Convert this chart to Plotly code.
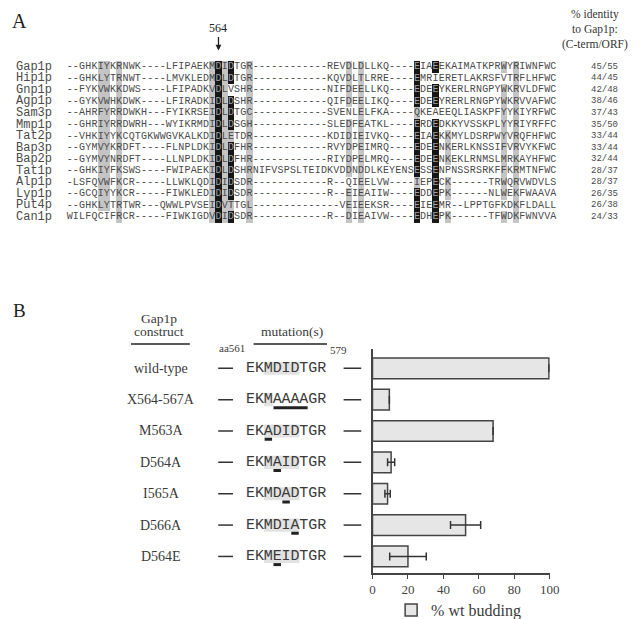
import plotly.graph_objects as go

# ── panel A: alignment around Gap1p residue 564 ─────────────────────────────
proteins = ["Gap1p", "Hip1p", "Gnp1p", "Agp1p", "Sam3p", "Mmp1p", "Tat2p",
            "Bap3p", "Bap2p", "Tat1p", "Alp1p", "Lyp1p", "Put4p", "Can1p"]
alignment = [
    "--GHKIYKRNWK----LFIPAEKMDIDTGR------------REVDLDLLKQ----EIAEEKAIMATKPRWYRIWNFWC",
    "--GHKLYTRNWT----LMVKLEDMDLDTGR------------KQVDLTLRRE----EMRIERETLAKRSFVTRFLHFWC",
    "--FYKVWKKDWS----LFIPADKVDLVSHR------------NIFDEELLKQ----EDEEYKERLRNGPYWKRVLDFWC",
    "--GYKVWHKDWK----LFIRADKIDLDSHR------------QIFDEELIKQ----EDEEYRERLRNGPYWKRVVAFWC",
    "--AHRFYRRDWKH---FYIKRSEIDLDTGC------------SVENLELFKA----QKEAEEQLIASKPFYYKIYRFWC",
    "--GHRIYRRDWRH---WYIKRMDIDLDSGH------------SLEDFEATKL----ERDEDKKYVSSKPLYYRIYRFFC",
    "--VHKIYYKCQTGKWWGVKALKDIDLETDR------------KDIDIEIVKQ----EIAEKKMYLDSRPWYVRQFHFWC",
    "--GYMVYKRDFT----FLNPLDKIDLDFHR------------RVYDPEIMRQ----EDEENKERLKNSSIFVRVYKFWC",
    "--GYMVYNRDFT----LLNPLDKIDLDFHR------------RIYDPELMRQ----EDEENKEKLRNMSLMRKAYHFWC",
    "--GHKIYFKSWS----FWIPAEKIDLDSHRNIFVSPSLTEIDKVDDNDDLKEYENSESSENPNSSRSRKFFKRMTNFWC",
    "-LSFQVWFKCR-----LLWKLQDIDIDSDR------------R--QIEELVW----IEPECK------TRWQRVWDVLS",
    "--GCQIYYKCR-----FIWKLEDIDIDSDR------------R--EIEAIIW----EDDEPK------NLWEKFWAAVA",
    "--GHKLYTRTWR---QWWLPVSEIDVTTGL--------------VEIEEKSR----EIEEMR--LPPTGFKDKFLDALL",
    "WILFQCIFRCR-----FIWKIGDVDIDSDR------------R--DIEAIVW----EDHEPK------TFWDKFWNVVA",
]
identity = ["45/55", "44/45", "42/48", "38/46", "37/43", "35/50", "33/44",
            "33/44", "32/44", "28/37", "28/37", "26/35", "26/38", "24/33"]

ALL = list(range(len(proteins)))
# column -> rows shaded black (identical) / grey (similar)
black_cells = {
    24: ALL,
    26: [0, 1, 3, 4, 5, 7, 8, 9, 10, 11, 13],
    56: [0, 1, 2, 3, 5, 6, 7, 8, 9, 11, 12, 13],
    59: [0, 2, 3, 5, 6, 7, 8, 9, 10, 11, 12, 13],
}
gray_cells = {
    5: ALL[:13], 6: ALL[:13], 8: ALL,
    23: ALL, 25: ALL, 26: [6, 12], 29: ALL,
    45: [0, 1, 2, 3, 5, 6, 7, 8, 9, 11, 12, 13], 47: ALL,
    56: [4, 10], 61: [6, 7, 8, 10, 11, 13],
    70: [0, 2, 3, 4, 5, 6, 7, 8, 9, 10, 11, 13], 72: ALL,
}
marked_residue = 24  # Gap1p D564

# ── panel B: mutants and budding ────────────────────────────────────────────
constructs = ["wild-type", "X564-567A", "M563A", "D564A", "I565A", "D566A", "D564E"]
mut_seqs = ["EKMDIDTGR", "EKMAAAAGR", "EKADIDTGR", "EKMAIDTGR",
            "EKMDADTGR", "EKMDIATGR", "EKMEIDTGR"]
shade_span = [(2, 5), (2, 2), (2, 5), (2, 5), (2, 5), (2, 5), (2, 5)]
mutated_span = [None, (3, 6), (2, 2), (3, 3), (4, 4), (5, 5), (3, 3)]
budding = [99.5, 9.5, 68, 10.5, 8.5, 52.5, 20]
budding_err = [None, None, None, 2.0, 1.5, 8.5, 10.3]

SERIF = "Liberation Serif, Times New Roman, serif"
MONO = "Liberation Mono, Courier New, monospace"
INK = "#3a3a3a"

W, H = 640, 619


def px(x):  # pixel -> paper x
    return x / W


def py(y):  # pixel -> paper y
    return 1 - y / H


def span(p_ref, v_ref, per_unit, total):  # linear axis range from a calibration
    lo = v_ref - p_ref / per_unit
    return lo, lo + total / per_unit


fig = go.Figure()

# ── alignment shading + letters ─────────────────────────────────────────────
ncol = len(alignment[0])
z = [[0] * ncol for _ in proteins]
for col, rows in gray_cells.items():
    for r in rows:
        z[r][col] = 1
for col, rows in black_cells.items():
    for r in rows:
        z[r][col] = 2

fig.add_trace(go.Heatmap(
    z=z, x=list(range(ncol)), y=ALL, xaxis="x2", yaxis="y2",
    zmin=0, zmax=2, showscale=False, hoverinfo="skip",
    colorscale=[[0, "rgba(255,255,255,0)"], [0.33, "rgba(255,255,255,0)"],
                [0.33, "#c4c4c4"], [0.67, "#c4c4c4"],
                [0.67, "#161616"], [1, "#161616"]],
))

xs, ys, chars, colors = [], [], [], []
for r, seq in enumerate(alignment):
    for c, ch in enumerate(seq):
        xs.append(c)
        ys.append(r)
        chars.append(ch)
        colors.append("#a0a0a0" if z[r][c] == 2 else "#4a4a4a")
fig.add_trace(go.Scatter(
    x=xs, y=ys, text=chars, mode="text", xaxis="x2", yaxis="y2",
    textfont=dict(family=MONO, size=10, color=colors),
    hoverinfo="skip", showlegend=False, cliponaxis=False,
))

for r, name in enumerate(proteins):
    fig.add_annotation(x=-9.0, y=r, xref="x2", yref="y2", text=name,
                       xanchor="left", yanchor="middle", showarrow=False,
                       font=dict(family=MONO, size=12, color="#4a4a4a"))
    fig.add_annotation(x=86.3, y=r, xref="x2", yref="y2", text=identity[r],
                       xanchor="center", yanchor="middle", showarrow=False,
                       font=dict(family=MONO, size=9, color="#4a4a4a"))

fig.add_annotation(x=marked_residue, y=-3.37, xref="x2", yref="y2", text="564",
                   xanchor="center", yanchor="middle", showarrow=False,
                   font=dict(family=SERIF, size=12, color="#222"))
fig.add_annotation(x=marked_residue, y=-1.4, xref="x2", yref="y2", text="",
                   showarrow=True, ax=0, ay=-15, arrowhead=2, arrowsize=0.9,
                   arrowwidth=1.3, arrowcolor="#222")
fig.add_annotation(x=px(596), y=py(22), xref="paper", yref="paper",
                   xanchor="center", yanchor="middle",
                   text="% identity<br>to Gap1p:<br>(C-term/ORF)", showarrow=False,
                   font=dict(family=SERIF, size=11.5, color="#333"))

# ── panel B: bars ───────────────────────────────────────────────────────────
fig.add_trace(go.Bar(
    x=budding, y=constructs, orientation="h", width=0.66,
    marker=dict(color="#e6e6e6", line=dict(color="#444", width=1.5)),
    error_x=dict(type="data", array=budding_err, color="#333",
                 thickness=1.5, width=4),
    name="% wt budding", showlegend=True, hoverinfo="skip",
))

# mutation sequences, letter by letter
bx, by, bt = [], [], []
for name, seq in zip(constructs, mut_seqs):
    for i, ch in enumerate(seq):
        bx.append(i)
        by.append(name)
        bt.append(ch)
fig.add_trace(go.Scatter(
    x=bx, y=by, text=bt, mode="text", xaxis="x3", yaxis="y",
    textfont=dict(family=MONO, size=15, color="#3a3a3a"),
    hoverinfo="skip", showlegend=False, cliponaxis=False,
))

for r, name in enumerate(constructs):
    s0, s1 = shade_span[r]
    fig.add_shape(type="rect", xref="x3", yref="y", x0=s0 - 0.5, x1=s1 + 0.5,
                  y0=r - 0.21, y1=r + 0.21, fillcolor="#e2e2e2",
                  line_width=0, layer="below")
    if mutated_span[r] is not None:
        m0, m1 = mutated_span[r]
        fig.add_shape(type="line", xref="x3", yref="y", x0=m0 - 0.42,
                      x1=m1 + 0.42, y0=r + 0.26, y1=r + 0.26,
                      line=dict(color="#222", width=3))
    fig.add_shape(type="line", xref="x3", yref="y", x0=-3.64, x1=-1.98,
                  y0=r, y1=r, line=dict(color="#333", width=1.5))
    fig.add_shape(type="line", xref="x3", yref="y", x0=10.47, x1=12.46,
                  y0=r, y1=r, line=dict(color="#333", width=1.5))
    fig.add_annotation(x=-10.03, y=name, xref="x3", yref="y", text=name,
                       xanchor="center", yanchor="middle", showarrow=False,
                       font=dict(family=SERIF, size=14, color=INK))

# headers for panel B
hdr = dict(family=SERIF, size=13.5, color=INK)
for xv, yv, txt in [(-10.36, 314, "Gap1p"), (-10.36, 327, "construct"),
                    (4.63, 327, "mutation(s)")]:
    fig.add_annotation(x=xv, y=py(yv), xref="x3", yref="paper", text=txt,
                       xanchor="center", yanchor="middle", showarrow=False, font=hdr)
for x0, x1 in [(-13.45, -6.84), (0.33, 8.6)]:
    fig.add_shape(type="line", xref="x3", yref="paper", x0=x0, x1=x1,
                  y0=py(339.3), y1=py(339.3), line=dict(color="#222", width=1.5))
small = dict(family=SERIF, size=11, color=INK)
fig.add_annotation(x=-2.09, y=py(343), xref="x3", yref="paper", text="aa561",
                   xanchor="center", yanchor="middle", showarrow=False, font=small)
fig.add_annotation(x=9.92, y=py(345), xref="x3", yref="paper", text="579",
                   xanchor="center", yanchor="middle", showarrow=False, font=small)

# panel letters
fig.add_annotation(x=px(9), y=py(13), xref="paper", yref="paper", text="A",
                   xanchor="center", yanchor="middle", showarrow=False,
                   font=dict(family=SERIF, size=20, color="#222"))
fig.add_annotation(x=px(9), y=py(305), xref="paper", yref="paper", text="B",
                   xanchor="center", yanchor="middle", showarrow=False,
                   font=dict(family=SERIF, size=19, color="#222"))

x2_lo, x2_hi = span(56.7 + 3.165, 0, 6.33, W)
r_top, r_bot = span(59.3, 0, 11.67, H)
x3_lo, x3_hi = span(240 + 4.535, 0, 9.07, W)

fig.update_layout(
    width=W, height=H, autosize=False,
    margin=dict(l=0, r=0, t=0, b=0),
    paper_bgcolor="white", plot_bgcolor="rgba(0,0,0,0)",
    xaxis=dict(domain=[px(369), px(550)], range=[0, 100], anchor="y",
               tickvals=[0, 20, 40, 60, 80, 100], ticks="outside", ticklen=4,
               tickcolor="#444", showline=True, linecolor="#444", linewidth=1.5,
               showgrid=False, zeroline=False,
               tickfont=dict(family=SERIF, size=13, color="#444")),
    yaxis=dict(domain=[py(570.6), py(344.8)], range=[6.53, -0.6],
               anchor="x", showline=True, linecolor="#444", linewidth=1.5,
               showticklabels=False, ticks="", showgrid=False, zeroline=False),
    xaxis2=dict(domain=[0, 1], range=[x2_lo, x2_hi], anchor="y2", visible=False),
    yaxis2=dict(domain=[0, 1], range=[r_bot, r_top], anchor="x2", visible=False),
    xaxis3=dict(domain=[0, 1], range=[x3_lo, x3_hi], anchor="y", visible=False),
    legend=dict(x=px(388), y=py(608), xanchor="left", yanchor="middle",
                bgcolor="rgba(0,0,0,0)",
                font=dict(family=SERIF, size=16, color=INK)),
)

fig.write_html("out.html")
